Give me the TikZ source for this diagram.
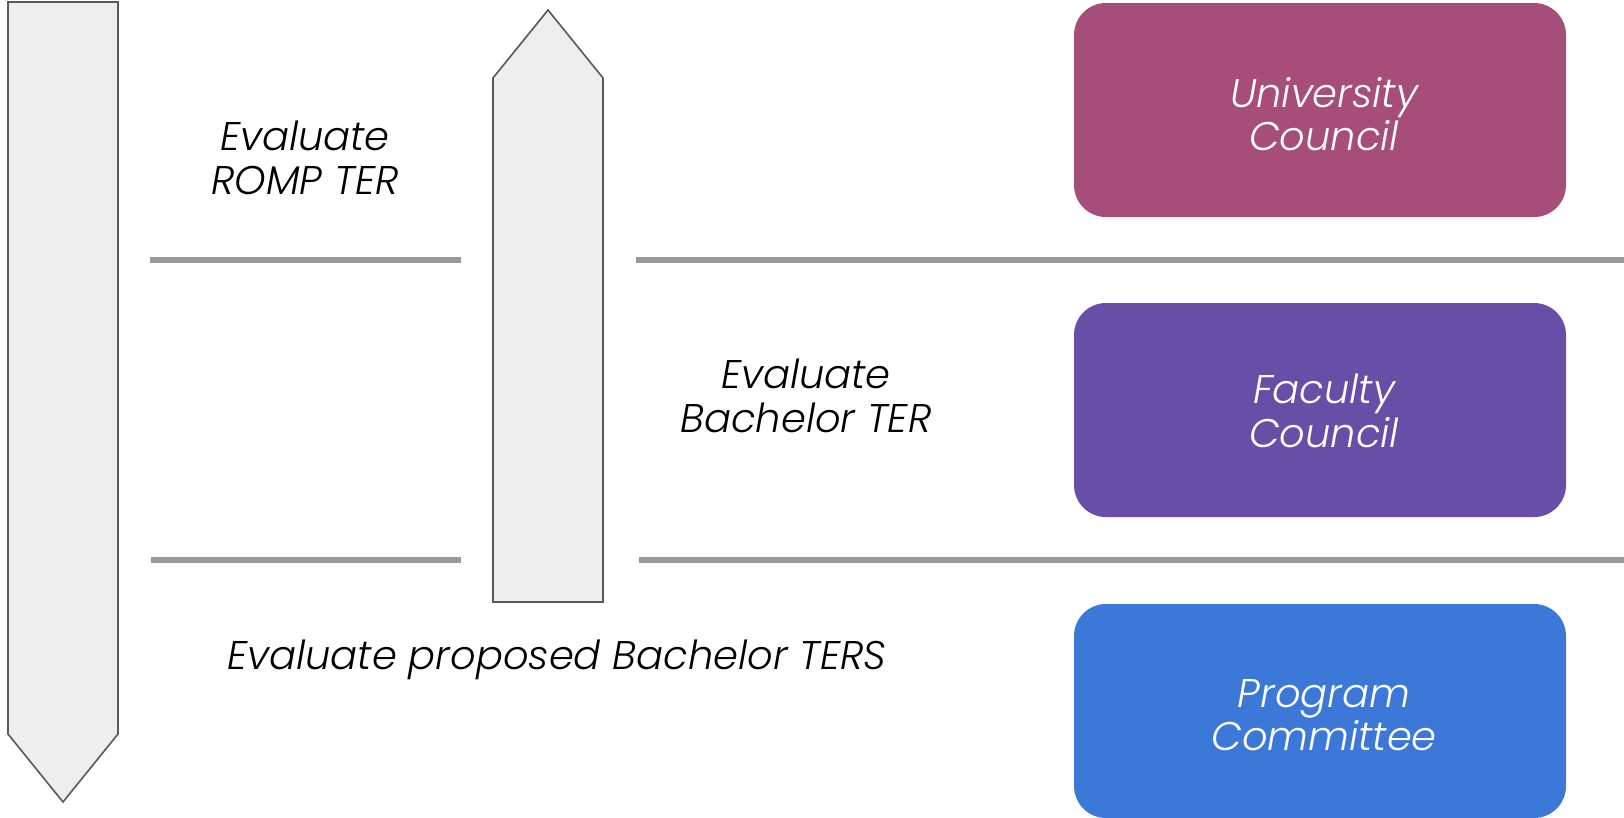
\documentclass[tikz,border=0pt]{standalone}
\usepackage{fontspec}
\setmainfont{Poppins}[ItalicFont={* Light Italic}]
\definecolor{arrowfill}{HTML}{EEEEEE}
\definecolor{arrowdraw}{HTML}{595959}
\definecolor{sepline}{HTML}{999999}
\definecolor{univ}{HTML}{A64D79}
\definecolor{fac}{HTML}{674EA7}
\definecolor{prog}{HTML}{3C78D8}
\begin{document}
\begin{tikzpicture}[x=1pt,y=-1pt,
  bigarrow/.style={fill=arrowfill,draw=arrowdraw,line width=1.6pt,line join=miter},
  sep/.style={draw=sepline,line width=6pt},
  label/.style={font=\itshape\fontsize{40}{43.5}\selectfont,align=center,inner sep=0pt,text=black},
  body/.style={rounded corners=32pt,minimum width=492pt,minimum height=214pt,inner sep=0pt},
  bodytext/.style={label,text=white}]
\useasboundingbox (0,0) rectangle (1624,817);
% down arrow
\draw[bigarrow] (8,2) -- (118,2) -- (118,734) -- (63,802) -- (8,734) -- cycle;
% up arrow
\draw[bigarrow] (548,10) -- (603,78) -- (603,602) -- (493,602) -- (493,78) -- cycle;
% separators
\coordinate (l1a) at (150,260); \coordinate (l1b) at (461,260);
\coordinate (l1c) at (636,260); \coordinate (l1d) at (1624,260);
\coordinate (l2a) at (151,560); \coordinate (l2b) at (461,560);
\coordinate (l2c) at (639,560); \coordinate (l2d) at (1624,560);
\draw[sep] (l1a) -- (l1b);
\draw[sep] (l1c) -- (l1d);
\draw[sep] (l2a) -- (l2b);
\draw[sep] (l2c) -- (l2d);
% boxes
\node[body,fill=univ] (uc) at (1320,110) {};
\node[body,fill=fac] (fc) at (1320,410) {};
\node[body,fill=prog] (pc) at (1320,711) {};
\node[bodytext] (uct) at ([xshift=4pt,yshift=-4pt]uc.center) {University\\Council};
\node[bodytext] (fct) at ([xshift=4pt,yshift=-1pt]fc.center) {Faculty\\Council};
\node[bodytext] (pct) at ([xshift=4pt,yshift=-4pt]pc.center) {Program\\Committee};
% labels
\node[label] (t1) at (305,158) {Evaluate\\ROMP TER};
\node[label] (t2) at (806,396) {Evaluate\\Bachelor TER};
\node[label] (t3) at (557,660) {Evaluate proposed Bachelor TERS};
\end{tikzpicture}
\end{document}
